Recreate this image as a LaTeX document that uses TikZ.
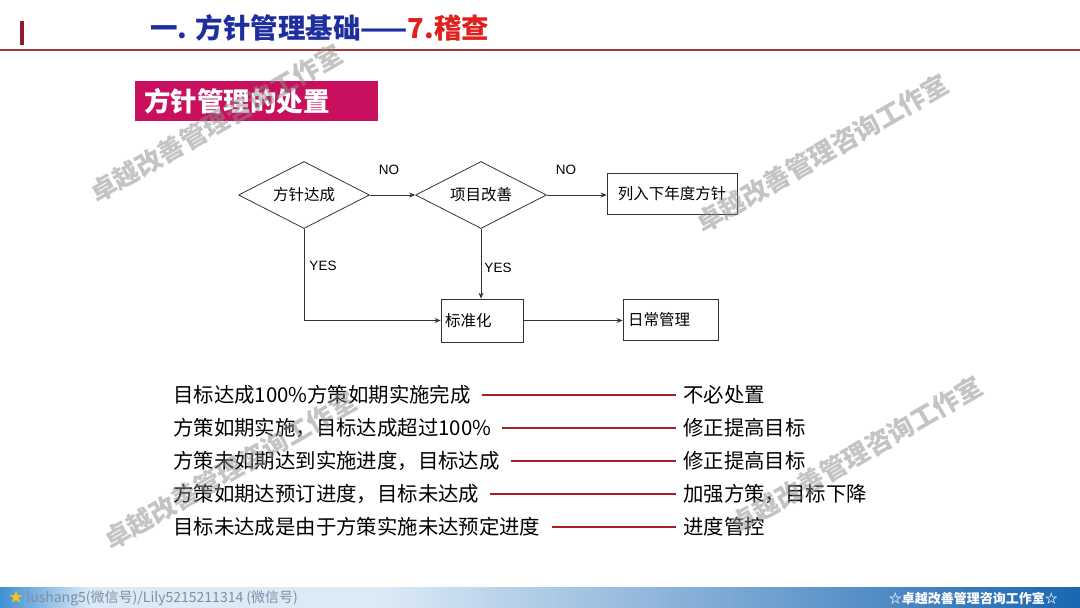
\documentclass[tikz,border=0pt]{standalone}
\usepackage{fontspec}
\setmainfont{Noto Sans CJK SC}
\newfontfamily\latinfont{Liberation Sans}
\usetikzlibrary{shapes.geometric,arrows.meta}
\definecolor{titleblue}{HTML}{1F2E9E}
\definecolor{titlered}{HTML}{E0201E}
\definecolor{barred}{HTML}{8E1B2A}
\definecolor{rulered}{HTML}{9E3A3A}
\definecolor{pinkc}{HTML}{C8105E}
\definecolor{listred}{HTML}{A31F24}
\definecolor{flowgray}{HTML}{333333}
\definecolor{footA}{HTML}{3F8FD3}
\definecolor{footB}{HTML}{DCEAF6}
\definecolor{footC}{HTML}{1966B2}
\definecolor{foottext}{HTML}{7A8FA6}
\definecolor{wmgray}{HTML}{8A8A8A}
\tikzset{
  dia/.style={diamond, draw=flowgray, line width=0.8pt, aspect=2, inner sep=0pt,
    minimum width=131pt, minimum height=67pt, font=\fontsize{15.5}{17}\selectfont},
  fbox/.style={rectangle, draw=flowgray, line width=0.8pt, inner sep=0pt,
    font=\fontsize{15.5}{17}\selectfont},
  arr/.style={draw=flowgray, line width=0.8pt, -{Stealth[length=6pt,width=5pt]}},
  yn/.style={font=\latinfont\fontsize{13.5}{15}\selectfont, text=black, inner sep=0pt},
  ltxt/.style={anchor=west, inner sep=2pt, font=\fontsize{20.4}{22}\selectfont, text=black},
  rline/.style={draw=listred, line width=2.5pt, shorten <=9pt, shorten >=5pt},
  wm/.style={rotate=30, text=wmgray, opacity=0.5, font=\bfseries\fontsize{26}{28}\selectfont}
}
\begin{document}
\begin{tikzpicture}[x=1pt,y=-1pt]
\useasboundingbox (0,0) rectangle (1080,608);
\fill[white] (0,0) rectangle (1080,608);

% header
\fill[barred] (20,21) rectangle (24,45);
\draw[rulered, line width=1.2pt] (0,50) -- (1080,50);
\node[anchor=west, inner sep=0pt, font=\bfseries\fontsize{27.5}{29}\selectfont] (title) at (150,28)
  {\textcolor{titleblue}{一. 方针管理基础——}\textcolor{titlered}{7.稽查}};

% section box
\node[anchor=north west, fill=pinkc, minimum width=243pt, minimum height=40pt,
  inner xsep=9pt, inner ysep=0pt, text width=225pt, align=left, text=white,
  font=\bfseries\fontsize{26.5}{27}\selectfont] (sec) at (135,81) {方针管理的处置};

% flowchart
\node[dia] (d1) at (304,195) {方针达成};
\node[dia] (d2) at (481,195) {项目改善};
\node[fbox, minimum width=130pt, minimum height=41pt] (next) at (672,193.5) {列入下年度方针};
\node[fbox, minimum width=82pt, minimum height=43pt, text width=74pt, inner xsep=4pt, align=left] (std) at (482,320.5) {标准化};
\node[fbox, minimum width=95pt, minimum height=41pt, text width=85pt, inner xsep=5pt, align=left] (daily) at (670.5,320) {日常管理};

\draw[arr] (d1.east) -- (d2.west);
\draw[arr] (d2.east) -- (d2.east -| next.west);
\draw[arr] (d1.south) |- (std.west);
\draw[arr] (d2.south) -- (d2.south |- std.north);
\draw[arr] (std.east) -- (std.east -| daily.west);

\node[yn] (no1) at (389,170) {NO};
\node[yn] (no2) at (566,170) {NO};
\node[yn] (yes1) at (323,266) {YES};
\node[yn] (yes2) at (498,268) {YES};

% list
\node[ltxt] (l1) at (171,395) {目标达成100\%方策如期实施完成};
\node[ltxt] (l2) at (171,428) {方策如期实施，目标达成超过100\%};
\node[ltxt] (l3) at (171,461) {方策未如期达到实施进度，目标达成};
\node[ltxt] (l4) at (171,494) {方策如期达预订进度，目标未达成};
\node[ltxt] (l5) at (171,527) {目标未达成是由于方策实施未达预定进度};
\node[ltxt] (r1) at (681,395) {不必处置};
\node[ltxt] (r2) at (681,428) {修正提高目标};
\node[ltxt] (r3) at (681,461) {修正提高目标};
\node[ltxt] (r4) at (681,494) {加强方策，目标下降};
\node[ltxt] (r5) at (681,527) {进度管控};
\foreach \i in {1,...,5} {
  \draw[rline] (l\i.east) -- (l\i.east -| r\i.west);
}

% footer
\shade[left color=footA, right color=footB] (0,587) rectangle (90,608);
\fill[footB] (89.5,587) rectangle (380.5,608);
\shade[left color=footB, right color=footC] (380,587) rectangle (1080,608);
\node[anchor=west, inner sep=0pt, text=foottext, font=\fontsize{14}{15}\selectfont] (fl) at (9,598)
  {\textcolor{yellow!60!orange}{★} lushang5(微信号)/Lily5215211314 (微信号)};
\node[anchor=east, inner sep=0pt, text=white, font=\bfseries\fontsize{13}{14}\selectfont] (fr) at (1058,598)
  {☆卓越改善管理咨询工作室☆};

% watermarks
\node[wm] (w1) at (216,123) {卓越改善管理咨询工作室};
\node[wm] (w2) at (822,153) {卓越改善管理咨询工作室};
\node[wm] (w3) at (230,470) {卓越改善管理咨询工作室};
\node[wm] (w4) at (856,455) {卓越改善管理咨询工作室};
\end{tikzpicture}
\end{document}
